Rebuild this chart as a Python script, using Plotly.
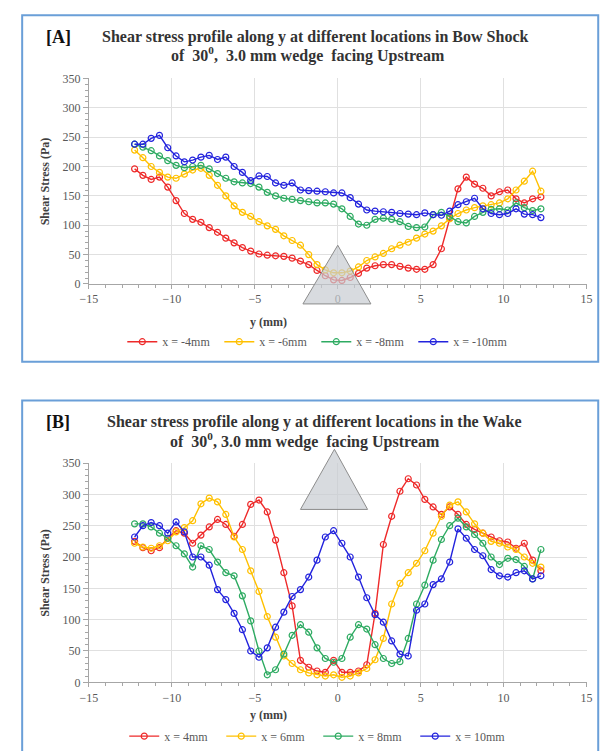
import plotly.graph_objects as go

# ---------------- data ----------------
Y_MM = [-12.25, -11.75, -11.25, -10.75, -10.25, -9.75, -9.25, -8.75, -8.25, -7.75,
        -7.25, -6.75, -6.25, -5.75, -5.25, -4.75, -4.25, -3.75, -3.25, -2.75,
        -2.25, -1.75, -1.25, -0.75, -0.25, 0.25, 0.75, 1.25, 1.75, 2.25,
        2.75, 3.25, 3.75, 4.25, 4.75, 5.25, 5.75, 6.25, 6.75, 7.25,
        7.75, 8.25, 8.75, 9.25, 9.75, 10.25, 10.75, 11.25, 11.75, 12.25]

# Panel A: bow shock (x upstream)
A_NAMES = ["x = -4mm", "x = -6mm", "x = -8mm", "x = -10mm"]
A_X_M4 = [196, 185, 178, 182, 165, 142, 120, 110, 105, 96,
          88, 78, 70, 62, 56, 51, 49, 48, 47, 44,
          39, 33, 23, 14, 7, 6, 11, 18, 27, 31,
          33, 33, 30, 27, 25, 25, 33, 60, 112, 162,
          182, 170, 163, 150, 157, 160, 145, 138, 145, 148]
A_X_M6 = [228, 215, 200, 190, 182, 180, 187, 194, 197, 185,
          168, 150, 133, 122, 115, 106, 99, 93, 82, 74,
          66, 50, 33, 24, 19, 19, 22, 29, 40, 46,
          52, 60, 66, 71, 78, 85, 90, 99, 111, 120,
          126, 130, 133, 135, 138, 145, 160, 175, 192, 158]
A_X_M8 = [238, 233, 227, 218, 210, 202, 198, 200, 202, 196,
          188, 180, 174, 172, 171, 165, 156, 150, 146, 144,
          142, 140, 138, 138, 136, 128, 115, 102, 100, 110,
          112, 110, 106, 98, 96, 97, 118, 122, 115, 106,
          104, 115, 122, 127, 128, 126, 138, 130, 125, 128]
A_X_M10 = [238, 238, 248, 253, 232, 218, 208, 211, 216, 219,
           212, 216, 200, 190, 176, 184, 183, 172, 168, 172,
           160, 159, 158, 157, 155, 155, 147, 136, 126, 124,
           123, 122, 120, 119, 118, 121, 118, 117, 124, 135,
           140, 146, 128, 120, 118, 120, 128, 119, 118, 113]

# Panel B: wake (x downstream)
B_NAMES = ["x = 4mm", "x = 6mm", "x = 8mm", "x = 10mm"]
B_X_4 = [225, 215, 210, 215, 230, 242, 238, 222, 235, 248,
         260, 252, 233, 252, 284, 291, 272, 227, 175, 122,
         35, 24, 18, 16, 35, 16, 16, 18, 28, 110,
         220, 265, 305, 325, 315, 292, 280, 268, 280, 268,
         252, 244, 238, 232, 226, 224, 214, 222, 195, 178]
B_X_6 = [222, 216, 214, 218, 226, 240, 247, 258, 285, 294,
         288, 268, 232, 212, 178, 145, 105, 72, 42, 30,
         20, 15, 12, 10, 12, 8, 10, 15, 22, 36,
         70, 125, 158, 175, 190, 210, 238, 265, 283, 288,
         272, 253, 238, 225, 222, 216, 212, 200, 190, 184]
B_X_8 = [253, 253, 248, 238, 230, 218, 205, 184, 218, 212,
         192, 175, 170, 138, 98, 50, 12, 20, 45, 75,
         92, 80, 55, 38, 32, 38, 72, 92, 85, 60,
         38, 30, 33, 70, 125, 155, 195, 228, 250, 262,
         248, 236, 222, 200, 188, 198, 196, 185, 165, 212]
B_X_10 = [232, 250, 255, 250, 238, 256, 240, 200, 200, 187,
          148, 132, 110, 84, 50, 40, 55, 88, 112, 137,
          148, 168, 195, 232, 242, 222, 200, 168, 135, 108,
          96, 66, 45, 42, 115, 125, 156, 165, 192, 245,
          230, 212, 202, 180, 170, 168, 175, 178, 165, 170]

COLORS = ["#ee2a2a", "#ffc000", "#2eab62", "#2323dd"]

# ---------------- layout geometry ----------------
W, H = 613, 751
SERIF = "Liberation Serif, Times New Roman, serif"
X_RANGE = [-15, 15]
Y_RANGE = [0, 350]


def px_to_paper_x(px):
    return px / W


def px_to_paper_y(py):
    return 1 - py / H


XDOM = [px_to_paper_x(82), px_to_paper_x(592)]
YDOM_A = [px_to_paper_y(283), px_to_paper_y(73)]
YDOM_B = [px_to_paper_y(690), px_to_paper_y(466)]


def data_to_paper(xv, yv, ydom):
    xp = XDOM[0] + (xv - X_RANGE[0]) / (X_RANGE[1] - X_RANGE[0]) * (XDOM[1] - XDOM[0])
    yp = ydom[0] + (yv - Y_RANGE[0]) / (Y_RANGE[1] - Y_RANGE[0]) * (ydom[1] - ydom[0])
    return xp, yp


fig = go.Figure()

for name, vals, col in zip(A_NAMES, [A_X_M4, A_X_M6, A_X_M8, A_X_M10], COLORS):
    fig.add_trace(go.Scatter(
        x=Y_MM, y=vals, name=name, mode="lines+markers",
        line=dict(color=col, width=1.4),
        marker=dict(symbol="circle-open", size=6, color=col, line=dict(width=1.2)),
        xaxis="x", yaxis="y", legend="legend"))

for name, vals, col in zip(B_NAMES, [B_X_4, B_X_6, B_X_8, B_X_10], COLORS):
    fig.add_trace(go.Scatter(
        x=Y_MM, y=vals, name=name, mode="lines+markers",
        line=dict(color=col, width=1.4),
        marker=dict(symbol="circle-open", size=6, color=col, line=dict(width=1.2)),
        xaxis="x2", yaxis="y2", legend="legend2"))

tickfont = dict(family=SERIF, size=12, color="#595959")


def xaxis_cfg(anchor):
    return dict(domain=XDOM, range=X_RANGE, dtick=5, anchor=anchor,
                showgrid=True, gridcolor="#e0e0e0", gridwidth=1, zeroline=False,
                showline=True, linecolor="#a6a6a6", linewidth=1,
                ticks="outside", ticklen=4, tickcolor="#a6a6a6",
                minor=dict(dtick=1, ticks="outside", ticklen=3, tickcolor="#a6a6a6", showgrid=False),
                tickfont=tickfont)


def yaxis_cfg(dom, anchor):
    return dict(domain=dom, range=Y_RANGE, dtick=50, anchor=anchor,
                showgrid=True, gridcolor="#e0e0e0", gridwidth=1, zeroline=False,
                showline=True, linecolor="#a6a6a6", linewidth=1,
                ticks="outside", ticklen=5, tickcolor="#a6a6a6",
                minor=dict(dtick=10, ticks="outside", ticklen=3, tickcolor="#a6a6a6", showgrid=False),
                tickfont=tickfont)


shapes = []
# panel frames
for top, bot in [(8.5, 362.5), (402, 770)]:
    shapes.append(dict(type="rect", xref="paper", yref="paper",
                       x0=px_to_paper_x(13.5), x1=px_to_paper_x(604),
                       y0=px_to_paper_y(bot), y1=px_to_paper_y(top),
                       line=dict(color="#6a9fd8", width=2), fillcolor="rgba(0,0,0,0)", layer="below"))


def triangle(apex, base_y, bx0, bx1, ydom):
    ax, ay = data_to_paper(apex[0], apex[1], ydom)
    lx, ly = data_to_paper(bx0, base_y, ydom)
    rx, ry = data_to_paper(bx1, base_y, ydom)
    return dict(type="path", xref="paper", yref="paper",
                path=f"M {lx},{ly} L {ax},{ay} L {rx},{ry} Z",
                fillcolor="rgba(200,204,210,0.70)", line=dict(color="#8c8c8c", width=1),
                layer="above")


shapes.append(triangle((0.0, 66), -34, -2.1, 2.0, YDOM_A))
shapes.append(triangle((-0.2, 372), 276, -2.25, 1.8, YDOM_B))

title_font = dict(family=SERIF, size=16, color="#333333")
ann = []


def add_text(text, px, py, font, xanchor="center", angle=0):
    ann.append(dict(text=text, x=px_to_paper_x(px), y=px_to_paper_y(py), xref="paper", yref="paper",
                    showarrow=False, xanchor=xanchor, yanchor="middle", font=font, textangle=angle))


bold_big = dict(family=SERIF, size=18, color="#111111")
add_text("<b>[A]</b>", 36, 31, bold_big, xanchor="left")
add_text("<b>Shear stress profile along y at different locations in Bow Shock</b>", 314, 31, title_font)
add_text("<b>of  30<sup>0</sup>,  3.0 mm wedge  facing Upstream</b>", 306, 49, title_font)
add_text("<b>[B]</b>", 36, 424, bold_big, xanchor="left")
add_text("<b>Shear stress profile along y at different locations in the Wake</b>", 313, 424, title_font)
add_text("<b>of  30<sup>0</sup>, 3.0 mm wedge  facing Upstream</b>", 303, 443, title_font)

axis_title_font = dict(family=SERIF, size=12, color="#404040")
add_text("<b>y (mm)</b>", 266, 322, axis_title_font)
add_text("<b>y (mm)</b>", 266, 723, axis_title_font)
add_text("<b>Shear Stress (Pa)</b>", 37, 178, axis_title_font, angle=-90)
add_text("<b>Shear Stress (Pa)</b>", 37, 578, axis_title_font, angle=-90)

legend_font = dict(family=SERIF, size=12, color="#595959")
leg_common = dict(orientation="h", xanchor="center", yanchor="middle", font=legend_font,
                  bgcolor="rgba(0,0,0,0)", entrywidth=52, entrywidthmode="pixels",
                  itemwidth=30, tracegroupgap=0)

fig.update_layout(
    width=W, height=H, margin=dict(l=0, r=0, t=0, b=0),
    paper_bgcolor="white", plot_bgcolor="white",
    xaxis=xaxis_cfg("y"), yaxis=yaxis_cfg(YDOM_A, "x"),
    xaxis2=xaxis_cfg("y2"), yaxis2=yaxis_cfg(YDOM_B, "x2"),
    shapes=shapes, annotations=ann,
    legend=dict(x=px_to_paper_x(315), y=px_to_paper_y(342), **leg_common),
    legend2=dict(x=px_to_paper_x(317), y=px_to_paper_y(745), **leg_common),
    showlegend=True,
)

# remove the browser's default page margin so the figure fills the window exactly
fig.write_html("out.html",
               config={"displayModeBar": False},
               post_script="document.body.style.margin='0';document.body.style.overflow='hidden';")
